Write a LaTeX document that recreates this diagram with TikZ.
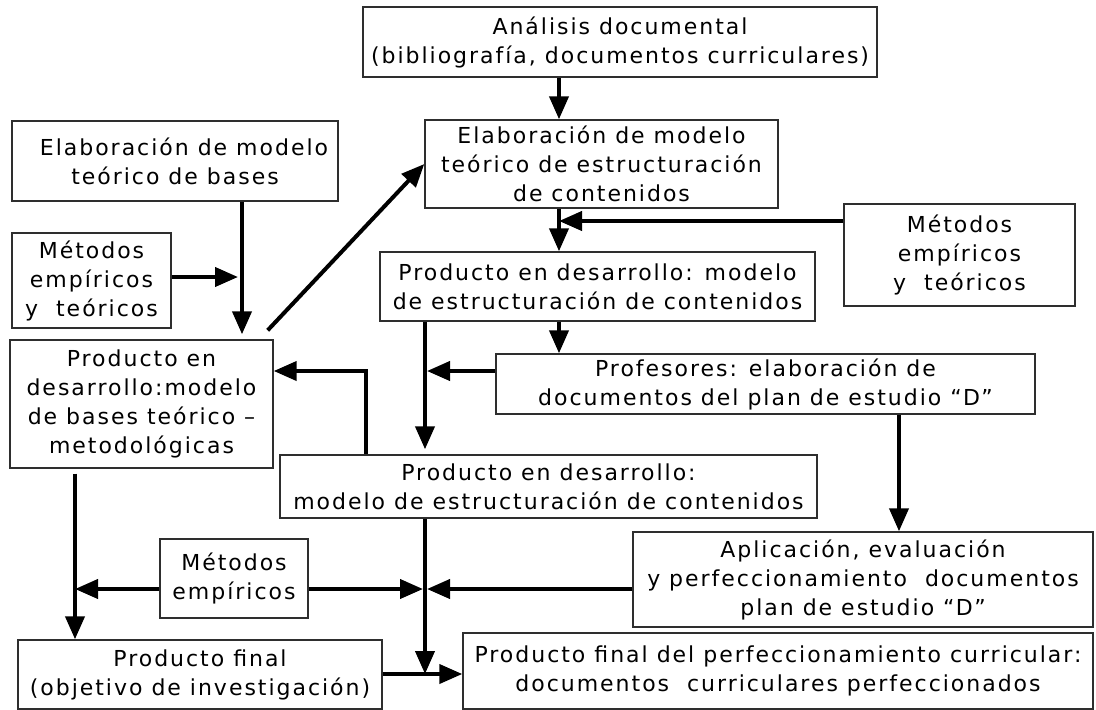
\documentclass[tikz,border=0pt]{standalone}
\usepackage{fontspec}
\setmainfont{DejaVu Sans}[LetterSpace=9]
\usepackage{xcolor}
\usepackage{tikz}
\usetikzlibrary{arrows.meta}
\definecolor{boxline}{HTML}{2E2E2E}
\definecolor{ink}{HTML}{000000}
\tikzset{
  stagebox/.style={
    rectangle, draw=boxline, line width=1.4pt,
    align=center, inner sep=0pt,
    font=\fontsize{22}{29}\selectfont
  },
  flowarrow/.style={
    -{Triangle[length=23pt,width=19pt]}, line width=4pt, color=ink
  },
}

\begin{document}
\begin{tikzpicture}[x=1pt,y=-1pt]
  \useasboundingbox (0,0) rectangle (1096,710);
  \node[stagebox, minimum width=514pt, minimum height=70pt] (analisis) at (620,42)
    {Análisis documental\\(bibliografía, documentos curriculares)};
  \node[stagebox, minimum width=326pt, minimum height=80pt] (elabbases) at (175,161)
    {\hspace*{18pt}Elaboración de modelo\\teórico de bases};
  \node[stagebox, minimum width=159pt, minimum height=95pt] (metizq) at (91.5,280.5)
    {Métodos\\empíricos\\y\ \ teóricos};
  \node[stagebox, minimum width=353pt, minimum height=88pt] (elabestr) at (601.5,164)
    {Elaboración de modelo\\teórico de estructuración\\de contenidos};
  \node[stagebox, minimum width=231pt, minimum height=102pt] (metder) at (959.5,255)
    {Métodos\\empíricos\\y\ \ teóricos};
  \node[stagebox, minimum width=435pt, minimum height=69pt] (prodsup) at (597.5,286.5)
    {Producto en desarrollo: modelo\\de estructuración de contenidos};
  \node[stagebox, minimum width=263pt, minimum height=128pt] (prodbases) at (141.5,404)
    {Producto en\\desarrollo:modelo\\de bases teórico –\\metodológicas};
  \node[stagebox, minimum width=539pt, minimum height=60pt] (profesores) at (765.5,384)
    {Profesores: elaboración de\\documentos del plan de estudio “D”};
  \node[stagebox, minimum width=537pt, minimum height=63pt] (prodmed) at (548.5,486.5)
    {Producto en desarrollo:\\modelo de estructuración de contenidos};
  \node[stagebox, minimum width=460pt, minimum height=95pt] (aplicacion) at (863,579.5)
    {Aplicación, evaluación\\y perfeccionamiento\ \ documentos\\plan de estudio “D”};
  \node[stagebox, minimum width=148pt, minimum height=79pt] (metinf) at (234,578.5)
    {Métodos\\empíricos};
  \node[stagebox, minimum width=364pt, minimum height=69pt] (prodfinal) at (200,674.5)
    {Producto final\\(objetivo de investigación)};
  \node[stagebox, minimum width=630pt, minimum height=76pt] (prodcurr) at (778,671)
    {Producto final del perfeccionamiento curricular:\\documentos\ \ curriculares perfeccionados};

  % columns and rows of the connectors
  \coordinate (colA) at (559,0);
  \coordinate (colB) at (242,0);
  \coordinate (colC) at (425,0);
  \coordinate (colD) at (366,0);
  \coordinate (colE) at (75,0);
  \coordinate (colF) at (899,0);
  \coordinate (rowM) at (0,221);
  \coordinate (rowL) at (0,277);
  \coordinate (rowP) at (0,371);
  \coordinate (rowE) at (0,589);
  \coordinate (rowF) at (0,674);

  \draw[flowarrow] (analisis.south -| colA) -- (elabestr.north -| colA);
  \draw[flowarrow] (elabestr.south -| colA) -- (prodsup.north -| colA);
  \draw[flowarrow] (metder.west |- rowM) -- (colA |- rowM);
  \draw[flowarrow] (prodsup.south -| colA) -- (profesores.north -| colA);
  \draw[flowarrow, shorten >=5pt] (elabbases.south -| colB) -- (prodbases.north -| colB);
  \draw[flowarrow, shorten >=4pt] (metizq.east |- rowL) -- (colB |- rowL);
  \draw[flowarrow] ([shift={(-6pt,9pt)}]prodbases.north east) -- (elabestr.west);
  \draw[flowarrow, shorten >=5pt] (prodsup.south -| colC) -- (prodmed.north -| colC);
  \draw[flowarrow, shorten >=2pt] (profesores.west |- rowP) -- (colC |- rowP);
  \draw[flowarrow] (prodmed.north -| colD) |- (prodbases.east |- rowP);
  \draw[flowarrow] (profesores.south -| colF) -- (aplicacion.north -| colF);
  \draw[flowarrow, shorten <=5pt] (prodbases.south -| colE) -- (prodfinal.north -| colE);
  \draw[flowarrow] (metinf.west |- rowE) -- (colE |- rowE);
  \draw[flowarrow, shorten >=2pt] (metinf.east |- rowE) -- (colC |- rowE);
  \draw[flowarrow, shorten >=2pt] (aplicacion.west |- rowE) -- (colC |- rowE);
  \draw[flowarrow] (prodmed.south -| colC) -- (colC |- rowF);
  \draw[flowarrow] (prodfinal.east |- rowF) -- (prodcurr.west |- rowF);
\end{tikzpicture}
\end{document}
